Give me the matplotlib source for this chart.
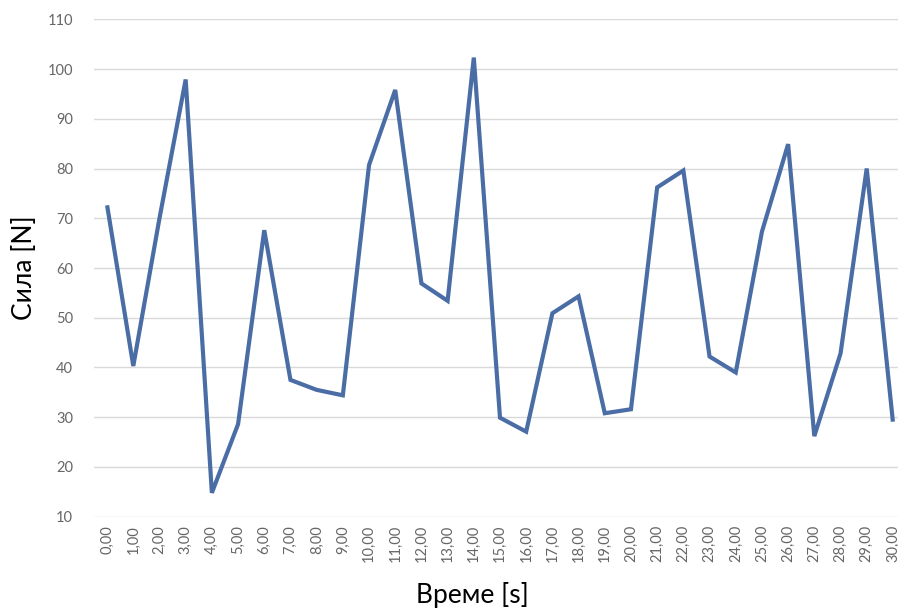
import matplotlib
matplotlib.use("Agg")
import matplotlib.pyplot as plt

# Time points (s) and measured force (N)
time_s = list(range(0, 31))
force_n = [72.6, 40.3, 70.0, 97.9, 14.8, 28.6, 67.6, 37.5, 35.5, 34.4,
           80.7, 95.8, 56.9, 53.4, 102.3, 29.9, 27.1, 50.9, 54.3, 30.8,
           31.6, 76.2, 79.6, 42.2, 39.0, 67.3, 84.9, 26.2, 42.8, 80.0, 29.1]
time_labels = [f"{t:.2f}".replace(".", ",") for t in time_s]
y_ticks = list(range(10, 111, 10))

plt.rcParams['font.family'] = ['Lato', 'DejaVu Sans']

W, H = 898, 609
fig = plt.figure(figsize=(W / 100, H / 100), dpi=100)
ax = fig.add_axes([94 / W, 1 - 516.7 / H, 812 / W, (516.7 - 19.3) / H])

xpos = list(range(len(time_s)))
ax.plot(xpos, force_n, color='#4a6da6', lw=3.0, solid_joinstyle='miter',
        solid_capstyle='butt', zorder=3)

ax.set_xlim(-0.5, len(time_s) - 0.5)
ax.set_ylim(10, 110)
ax.set_yticks(y_ticks)
ax.set_xticks(xpos)
ax.set_xticklabels(time_labels, rotation=90, va='top', ha='center')

ax.grid(axis='y', color='#d9d9d9', lw=1.0, zorder=0)
ax.grid(axis='x', visible=False)
for s in ax.spines.values():
    s.set_visible(False)
ax.tick_params(axis='both', length=0, colors='#666666', labelsize=10.5)
ax.tick_params(axis='x', pad=6)
ax.tick_params(axis='y', pad=15)

fig.text(472 / W, 1 - 595 / H, 'Време [s]', ha='center', va='center',
         fontsize=19, color='black')
fig.text(24 / W, 1 - 268 / H, 'Сила [N]', ha='center', va='center',
         rotation=90, fontsize=19, color='black')

fig.savefig('out.png', dpi=100, facecolor='white')
